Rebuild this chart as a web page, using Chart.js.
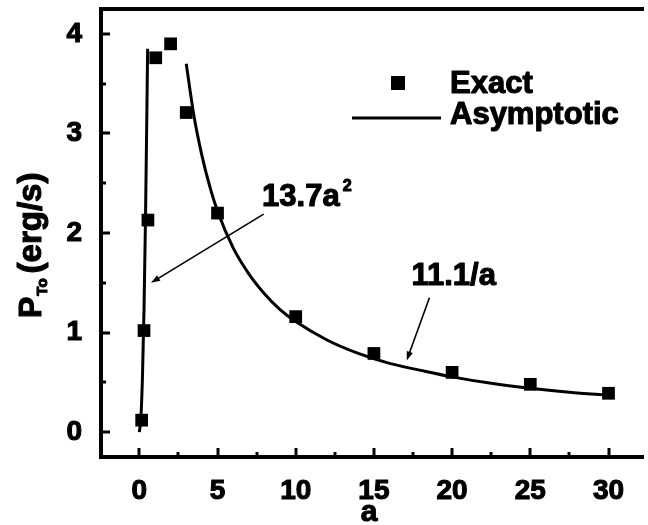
<!DOCTYPE html>
<html>
<head>
<meta charset="utf-8">
<style>
  html, body { margin: 0; padding: 0; background: #fff; overflow: hidden; }
  #wrap { width: 648px; height: 525px; }
</style>
<script src="https://cdn.jsdelivr.net/npm/chart.js@4/dist/chart.umd.min.js"></script>
</head>
<body>
<div id="wrap"><canvas id="c" width="648" height="525"></canvas></div>
<script>
// Exact emitted power vs. a
const exactA = [0.15, 0.3, 0.55, 1.05, 2, 3, 5, 10, 15, 20, 25, 30];
const exactP = [0.12, 1.02, 2.13, 3.76, 3.90, 3.21, 2.20, 1.16, 0.79, 0.60, 0.48, 0.39];

// Asymptotic branch for small a: 13.7 a^2
const smallA = [0, 0.1, 0.2, 0.3, 0.4, 0.5, 0.53];
const smallP = [0, 0.14, 0.55, 1.23, 2.19, 3.43, 3.85];

// Asymptotic branch for large a: 11.1 / a
const largeA = [3, 3.5, 4, 4.5, 5, 6, 7, 8, 9, 10, 12, 14, 16, 18, 20, 22.5, 25, 27.5, 30];
const largeP = [3.70, 3.17, 2.78, 2.47, 2.22, 1.85, 1.59, 1.39, 1.23, 1.11, 0.925, 0.79, 0.69, 0.62, 0.555, 0.49, 0.44, 0.40, 0.37];

// Tick positions (major + minor) and the labelled ones
const xTicks = [0, 2.5, 5, 7.5, 10, 12.5, 15, 17.5, 20, 22.5, 25, 27.5, 30];
const xLabelled = [0, 5, 10, 15, 20, 25, 30];
const yTicks = [0, 0.5, 1, 1.5, 2, 2.5, 3, 3.5, 4];
const yLabelled = [0, 1, 2, 3, 4];

const seriesNames = ['Exact', 'Asymptotic'];

const pts = (xs, ys) => xs.map((x, i) => ({ x: x, y: ys[i] }));

const FONT = '"Liberation Sans", Arial, sans-serif';
const HEAVY = 1.1; // extra outline on text for a heavier face

// Annotation anchors in data units
const noteSmall = { text: '13.7a', sup: '2', at: [7.85, 2.27], from: [7.95, 2.19], to: [0.75, 1.50] };
const noteLarge = { text: '11.1/a', at: [17.4, 1.48], from: [18.55, 1.35], to: [17.1, 0.72] };

function heavyText(ctx, s, x, y) {
  ctx.fillText(s, x, y);
  ctx.save();
  ctx.lineWidth = HEAVY;
  ctx.lineJoin = 'round';
  ctx.strokeText(s, x, y);
  ctx.restore();
}

function arrow(ctx, x1, y1, x2, y2) {
  const ang = Math.atan2(y2 - y1, x2 - x1);
  const h = 9, w = 3.2;
  ctx.beginPath();
  ctx.moveTo(x1, y1);
  ctx.lineTo(x2 - Math.cos(ang) * (h - 2), y2 - Math.sin(ang) * (h - 2));
  ctx.stroke();
  ctx.beginPath();
  ctx.moveTo(x2, y2);
  ctx.lineTo(x2 - h * Math.cos(ang) + w * Math.sin(ang), y2 - h * Math.sin(ang) - w * Math.cos(ang));
  ctx.lineTo(x2 - h * Math.cos(ang) - w * Math.sin(ang), y2 - h * Math.sin(ang) + w * Math.cos(ang));
  ctx.closePath();
  ctx.fill();
}

const decor = {
  id: 'decor',
  afterDraw(chart) {
    const ctx = chart.ctx;
    const a = chart.chartArea;
    const xs = chart.scales.x, ys = chart.scales.y;
    ctx.save();
    ctx.fillStyle = '#000';
    ctx.strokeStyle = '#000';

    // frame (right side runs off the canvas)
    ctx.lineWidth = 4;
    ctx.beginPath();
    ctx.moveTo(a.right + 5, a.top);
    ctx.lineTo(a.left, a.top);
    ctx.lineTo(a.left, a.bottom);
    ctx.lineTo(a.right + 5, a.bottom);
    ctx.stroke();

    // inward tick marks
    ctx.lineWidth = 3;
    xTicks.forEach(v => {
      const px = Math.round(xs.getPixelForValue(v));
      const len = xLabelled.includes(v) ? 9 : 5;
      ctx.beginPath();
      ctx.moveTo(px, a.bottom);
      ctx.lineTo(px, a.bottom - len);
      ctx.stroke();
    });
    yTicks.forEach(v => {
      const py = Math.round(ys.getPixelForValue(v));
      const len = yLabelled.includes(v) ? 9 : 5;
      ctx.beginPath();
      ctx.moveTo(a.left, py);
      ctx.lineTo(a.left + len, py);
      ctx.stroke();
    });

    // legend
    ctx.fillRect(391, 76, 14, 14);
    ctx.lineWidth = 3;
    ctx.beginPath();
    ctx.moveTo(352, 118);
    ctx.lineTo(441, 118);
    ctx.stroke();
    ctx.font = 'bold 31px ' + FONT;
    ctx.textAlign = 'left';
    ctx.textBaseline = 'alphabetic';
    heavyText(ctx, seriesNames[0], 450, 93);
    heavyText(ctx, seriesNames[1], 450, 124);

    // annotations with arrows
    [noteSmall, noteLarge].forEach(n => {
      const tx = xs.getPixelForValue(n.at[0]), ty = ys.getPixelForValue(n.at[1]);
      ctx.font = 'bold 31px ' + FONT;
      heavyText(ctx, n.text, tx, ty);
      if (n.sup) {
        const w = ctx.measureText(n.text).width;
        ctx.font = 'bold 16px ' + FONT;
        heavyText(ctx, n.sup, tx + w + 3, ty - 15);
      }
      ctx.lineWidth = 1.6;
      arrow(ctx,
        xs.getPixelForValue(n.from[0]), ys.getPixelForValue(n.from[1]),
        xs.getPixelForValue(n.to[0]), ys.getPixelForValue(n.to[1]));
    });

    // x axis title
    ctx.font = 'bold 30px ' + FONT;
    ctx.textAlign = 'center';
    heavyText(ctx, 'a', 369, 521);

    // y axis title: P_To (erg/s), rotated
    ctx.translate(41, 318);
    ctx.rotate(-Math.PI / 2);
    ctx.textAlign = 'left';
    ctx.font = 'bold 32px ' + FONT;
    let x = 0;
    heavyText(ctx, 'P', x, 0);
    x += ctx.measureText('P').width + 1;
    ctx.font = 'bold 15px ' + FONT;
    heavyText(ctx, 'To', x, 6);
    x += ctx.measureText('To').width + 5;
    ctx.font = 'bold 33px ' + FONT;
    heavyText(ctx, '(erg/s)', x, 0);
    ctx.restore();
  }
};

const tickFont = { family: FONT, size: 28, weight: 'bold' };

new Chart(document.getElementById('c'), {
  type: 'scatter',
  data: {
    datasets: [
      {
        label: seriesNames[0],
        data: pts(exactA, exactP),
        showLine: false,
        pointStyle: 'rect',
        pointRadius: 9,
        pointBackgroundColor: '#000',
        pointBorderColor: '#000',
        pointBorderWidth: 0
      },
      {
        label: seriesNames[1],
        data: pts(smallA, smallP),
        showLine: true,
        borderColor: '#000',
        borderWidth: 3,
        pointRadius: 0,
        cubicInterpolationMode: 'monotone'
      },
      {
        label: seriesNames[1],
        data: pts(largeA, largeP),
        showLine: true,
        borderColor: '#000',
        borderWidth: 3,
        pointRadius: 0,
        cubicInterpolationMode: 'monotone'
      }
    ]
  },
  options: {
    responsive: false,
    animation: false,
    layout: { padding: { top: 7, right: 0, left: 0, bottom: 0 } },
    plugins: { legend: { display: false }, tooltip: { enabled: false } },
    scales: {
      x: {
        type: 'linear',
        min: -2.45,
        max: 31.95,
        afterBuildTicks: s => { s.ticks = xTicks.map(v => ({ value: v })); },
        afterFit: s => { s.height = 68; s.paddingLeft = 0; s.paddingRight = 0; },
        grid: { display: false, drawTicks: false },
        border: { display: false },
        ticks: {
          autoSkip: false,
          maxRotation: 0,
          padding: 17,
          color: '#000',
          textStrokeColor: '#000',
          textStrokeWidth: HEAVY,
          font: tickFont,
          callback: v => xLabelled.includes(v) ? String(v) : ''
        }
      },
      y: {
        type: 'linear',
        min: -0.25,
        max: 4.25,
        afterBuildTicks: s => { s.ticks = yTicks.map(v => ({ value: v })); },
        afterFit: s => { s.width = 101; s.paddingTop = 0; s.paddingBottom = 0; },
        grid: { display: false, drawTicks: false },
        border: { display: false },
        ticks: {
          autoSkip: false,
          padding: 19,
          color: '#000',
          textStrokeColor: '#000',
          textStrokeWidth: HEAVY,
          font: tickFont,
          callback: v => yLabelled.includes(v) ? String(v) : ''
        }
      }
    }
  },
  plugins: [decor]
});
</script>
</body>
</html>
